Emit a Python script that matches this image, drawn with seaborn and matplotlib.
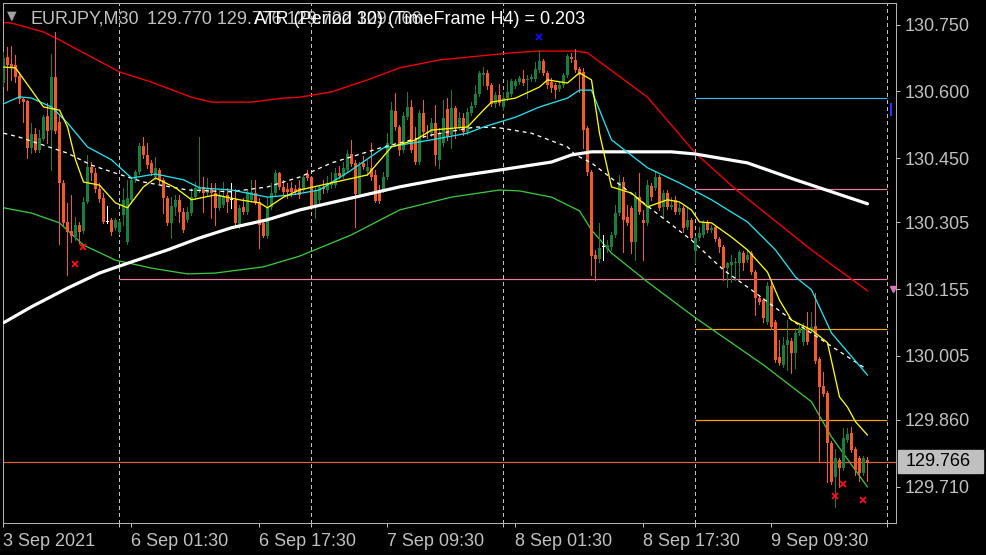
import numpy as np
import matplotlib
matplotlib.use("Agg")
import matplotlib.pyplot as plt
import seaborn as sns
from matplotlib.patches import Rectangle
from matplotlib.transforms import blended_transform_factory

# EURJPY M30 candles (bar 0 = 3 Sep 2021 09:30)
opens = [
    130.619, 130.677, 130.662, 130.660, 130.634, 130.583, 130.579, 130.473, 130.504, 130.468,
    130.493, 130.545, 130.513, 130.632, 130.531, 130.394, 130.306, 130.286, 130.272, 130.300,
    130.286, 130.351, 130.430, 130.416, 130.380, 130.360, 130.306, 130.311, 130.293, 130.284,
    130.322, 130.261, 130.356, 130.401, 130.419, 130.477, 130.457, 130.439, 130.407, 130.423,
    130.401, 130.360, 130.304, 130.340, 130.356, 130.329, 130.311, 130.326, 130.362, 130.378,
    130.385, 130.371, 130.380, 130.371, 130.338, 130.345, 130.367, 130.356, 130.356, 130.300,
    130.340, 130.329, 130.356, 130.371, 130.351, 130.304, 130.275, 130.340, 130.371, 130.416,
    130.385, 130.380, 130.383, 130.380, 130.383, 130.378, 130.414, 130.407, 130.342, 130.356,
    130.385, 130.378, 130.389, 130.389, 130.416, 130.410, 130.423, 130.459, 130.439, 130.369,
    130.439, 130.421, 130.428, 130.412, 130.378, 130.378, 130.407, 130.482, 130.556, 130.520,
    130.468, 130.542, 130.565, 130.491, 130.441, 130.552, 130.509, 130.507, 130.529, 130.446,
    130.484, 130.561, 130.502, 130.563, 130.518, 130.540, 130.509, 130.552, 130.570, 130.594,
    130.637, 130.642, 130.615, 130.572, 130.592, 130.565, 130.585, 130.594, 130.612, 130.621,
    130.628, 130.626, 130.628, 130.628, 130.648, 130.669, 130.642, 130.621, 130.615, 130.606,
    130.615, 130.637, 130.677, 130.671, 130.651, 130.644, 130.518, 130.419, 130.232, 130.223,
    130.250, 130.245, 130.250, 130.277, 130.326, 130.396, 130.318, 130.338, 130.261, 130.362,
    130.311, 130.304, 130.387, 130.383, 130.407, 130.340, 130.371, 130.340, 130.356, 130.329,
    130.338, 130.295, 130.311, 130.241, 130.270, 130.277, 130.306, 130.288, 130.295, 130.268,
    130.250, 130.202, 130.209, 130.214, 130.214, 130.236, 130.220, 130.236, 130.193, 130.135,
    130.130, 130.081, 130.162, 130.081, 130.002, 129.984, 130.029, 130.038, 130.011, 130.056,
    130.036, 130.067, 130.063, 130.072, 129.998, 129.937, 129.921, 129.808, 129.732, 129.770,
    129.752, 129.815, 129.831, 129.795, 129.775, 129.741, 129.770,
]
highs = [
    130.688, 130.700, 130.702, 130.682, 130.644, 130.585, 130.581, 130.529, 130.518, 130.513,
    130.547, 130.574, 130.684, 130.734, 130.547, 130.401, 130.349, 130.367, 130.318, 130.306,
    130.362, 130.457, 130.441, 130.428, 130.394, 130.371, 130.342, 130.315, 130.315, 130.311,
    130.383, 130.401, 130.405, 130.423, 130.484, 130.498, 130.484, 130.446, 130.453, 130.428,
    130.405, 130.365, 130.362, 130.367, 130.367, 130.338, 130.340, 130.383, 130.396, 130.498,
    130.407, 130.405, 130.394, 130.394, 130.378, 130.396, 130.383, 130.394, 130.380, 130.345,
    130.360, 130.378, 130.401, 130.401, 130.360, 130.311, 130.362, 130.394, 130.423, 130.419,
    130.401, 130.394, 130.396, 130.389, 130.401, 130.412, 130.423, 130.410, 130.385, 130.389,
    130.401, 130.410, 130.419, 130.428, 130.432, 130.441, 130.468, 130.491, 130.446, 130.441,
    130.455, 130.446, 130.484, 130.423, 130.389, 130.419, 130.507, 130.576, 130.597, 130.525,
    130.554, 130.599, 130.581, 130.520, 130.558, 130.581, 130.525, 130.540, 130.570, 130.518,
    130.581, 130.585, 130.603, 130.567, 130.554, 130.552, 130.563, 130.576, 130.615, 130.646,
    130.655, 130.648, 130.619, 130.599, 130.617, 130.599, 130.626, 130.628, 130.628, 130.635,
    130.648, 130.637, 130.639, 130.666, 130.693, 130.673, 130.646, 130.630, 130.619, 130.621,
    130.642, 130.684, 130.686, 130.696, 130.655, 130.653, 130.522, 130.423, 130.243, 130.304,
    130.277, 130.265, 130.284, 130.345, 130.412, 130.407, 130.345, 130.342, 130.374, 130.416,
    130.333, 130.401, 130.394, 130.419, 130.412, 130.378, 130.378, 130.362, 130.365, 130.349,
    130.342, 130.340, 130.315, 130.275, 130.295, 130.311, 130.311, 130.300, 130.300, 130.272,
    130.254, 130.216, 130.232, 130.225, 130.243, 130.241, 130.243, 130.241, 130.198, 130.139,
    130.135, 130.171, 130.169, 130.085, 130.040, 130.047, 130.085, 130.045, 130.067, 130.078,
    130.078, 130.103, 130.103, 130.146, 130.002, 129.968, 129.925, 129.813, 129.795, 129.775,
    129.842, 129.842, 129.844, 129.799, 129.779, 129.779, 129.776,
]
lows = [
    130.612, 130.603, 130.626, 130.621, 130.574, 130.531, 130.451, 130.462, 130.464, 130.464,
    130.491, 130.484, 130.423, 130.507, 130.256, 130.300, 130.187, 130.261, 130.265, 130.259,
    130.281, 130.349, 130.401, 130.374, 130.351, 130.304, 130.304, 130.277, 130.288, 130.279,
    130.300, 130.256, 130.349, 130.396, 130.414, 130.451, 130.428, 130.412, 130.403, 130.394,
    130.326, 130.300, 130.270, 130.322, 130.306, 130.284, 130.306, 130.322, 130.358, 130.374,
    130.329, 130.365, 130.315, 130.300, 130.333, 130.340, 130.329, 130.338, 130.300, 130.293,
    130.324, 130.324, 130.351, 130.347, 130.247, 130.272, 130.270, 130.336, 130.367, 130.380,
    130.367, 130.360, 130.365, 130.369, 130.360, 130.374, 130.401, 130.336, 130.315, 130.349,
    130.371, 130.374, 130.383, 130.385, 130.405, 130.405, 130.419, 130.432, 130.295, 130.365,
    130.425, 130.412, 130.401, 130.351, 130.349, 130.374, 130.403, 130.477, 130.513, 130.457,
    130.464, 130.538, 130.464, 130.437, 130.437, 130.498, 130.495, 130.500, 130.435, 130.428,
    130.477, 130.491, 130.473, 130.495, 130.513, 130.502, 130.504, 130.547, 130.565, 130.590,
    130.615, 130.606, 130.567, 130.565, 130.570, 130.558, 130.581, 130.590, 130.608, 130.617,
    130.615, 130.585, 130.624, 130.624, 130.644, 130.637, 130.608, 130.599, 130.585, 130.601,
    130.610, 130.633, 130.666, 130.644, 130.599, 130.473, 130.412, 130.187, 130.175, 130.216,
    130.220, 130.238, 130.243, 130.272, 130.322, 130.238, 130.300, 130.236, 130.220, 130.324,
    130.220, 130.300, 130.356, 130.378, 130.333, 130.315, 130.336, 130.336, 130.324, 130.324,
    130.284, 130.290, 130.265, 130.214, 130.265, 130.272, 130.284, 130.284, 130.263, 130.238,
    130.175, 130.160, 130.171, 130.175, 130.180, 130.198, 130.216, 130.189, 130.097, 130.121,
    130.081, 130.076, 130.065, 129.991, 129.984, 129.980, 129.973, 129.966, 129.977, 130.051,
    130.029, 130.031, 130.058, 129.989, 129.768, 129.914, 129.720, 129.716, 129.664, 129.709,
    129.748, 129.811, 129.788, 129.736, 129.723, 129.736, 129.722,
]
closes = [
    130.675, 130.660, 130.655, 130.632, 130.583, 130.576, 130.473, 130.504, 130.468, 130.495,
    130.542, 130.511, 130.632, 130.511, 130.394, 130.304, 130.284, 130.275, 130.300, 130.284,
    130.351, 130.430, 130.416, 130.380, 130.358, 130.306, 130.306, 130.284, 130.311, 130.306,
    130.356, 130.360, 130.401, 130.419, 130.477, 130.457, 130.435, 130.416, 130.428, 130.401,
    130.360, 130.304, 130.342, 130.356, 130.329, 130.288, 130.329, 130.362, 130.383, 130.385,
    130.371, 130.383, 130.371, 130.338, 130.367, 130.362, 130.351, 130.356, 130.304, 130.338,
    130.329, 130.374, 130.374, 130.351, 130.300, 130.275, 130.340, 130.371, 130.416, 130.385,
    130.374, 130.374, 130.374, 130.374, 130.367, 130.407, 130.405, 130.340, 130.378, 130.385,
    130.380, 130.394, 130.396, 130.416, 130.410, 130.428, 130.459, 130.437, 130.369, 130.432,
    130.430, 130.430, 130.407, 130.353, 130.353, 130.407, 130.484, 130.558, 130.520, 130.468,
    130.545, 130.565, 130.468, 130.441, 130.552, 130.509, 130.507, 130.529, 130.457, 130.504,
    130.540, 130.498, 130.563, 130.518, 130.540, 130.509, 130.554, 130.567, 130.594, 130.642,
    130.642, 130.612, 130.572, 130.592, 130.574, 130.585, 130.599, 130.624, 130.624, 130.630,
    130.619, 130.628, 130.633, 130.651, 130.669, 130.642, 130.615, 130.608, 130.603, 130.615,
    130.637, 130.680, 130.673, 130.648, 130.637, 130.513, 130.419, 130.230, 130.223, 130.247,
    130.250, 130.254, 130.277, 130.326, 130.396, 130.311, 130.304, 130.261, 130.362, 130.329,
    130.304, 130.389, 130.362, 130.407, 130.338, 130.371, 130.340, 130.345, 130.329, 130.338,
    130.293, 130.311, 130.270, 130.270, 130.281, 130.306, 130.288, 130.293, 130.268, 130.250,
    130.202, 130.214, 130.216, 130.216, 130.238, 130.214, 130.232, 130.193, 130.135, 130.126,
    130.090, 130.162, 130.070, 129.995, 129.989, 130.029, 130.040, 130.011, 130.056, 130.067,
    130.067, 130.036, 130.070, 129.993, 129.934, 129.919, 129.808, 129.720, 129.775, 129.752,
    129.820, 129.829, 129.793, 129.748, 129.741, 129.775, 129.766,
]

# indicator lines, sampled (bar index, price)
red_i = [0, 2, 10, 14, 20, 29, 37, 47, 52, 62, 70, 74, 82, 91, 99, 109, 117, 127, 134, 143,
         146, 161, 173, 183, 202, 216]
red_p = [130.755, 130.754, 130.734, 130.716, 130.687, 130.644, 130.621, 130.587, 130.576, 130.576,
         130.585, 130.587, 130.599, 130.626, 130.653, 130.671, 130.678, 130.687, 130.691, 130.691,
         130.687, 130.587, 130.461, 130.380, 130.243, 130.151]
grn_i = [0, 7, 14, 20, 28, 37, 46, 53, 65, 74, 87, 99, 112, 124, 129, 137, 144, 147, 152, 161,
         173, 190, 202, 207, 216]
grn_p = [130.338, 130.326, 130.304, 130.254, 130.220, 130.202, 130.189, 130.191, 130.205, 130.229,
         130.277, 130.333, 130.362, 130.378, 130.376, 130.362, 130.331, 130.288, 130.236, 130.171,
         130.090, 129.984, 129.901, 129.822, 129.709]
wht_i = [0, 7, 16, 24, 32, 41, 49, 57, 66, 74, 87, 99, 112, 124, 137, 142, 147, 157, 167, 173,
         186, 198, 207, 216]
wht_p = [130.079, 130.115, 130.157, 130.191, 130.216, 130.243, 130.270, 130.293, 130.311, 130.333,
         130.360, 130.385, 130.407, 130.423, 130.441, 130.457, 130.464, 130.464, 130.464, 130.459,
         130.439, 130.401, 130.374, 130.347]
dsh_i = [0, 4, 10, 16, 22, 28, 35, 46, 57, 66, 74, 82, 95, 107, 118, 124, 132, 141, 143, 147,
         159, 172, 180, 187, 198, 215]
dsh_p = [130.506, 130.497, 130.479, 130.461, 130.434, 130.416, 130.396, 130.378, 130.374, 130.385,
         130.407, 130.439, 130.475, 130.502, 130.520, 130.518, 130.506, 130.475, 130.457, 130.439,
         130.356, 130.265, 130.198, 130.153, 130.079, 129.979]
cyn_i = [0, 4, 7, 12, 16, 21, 27, 32, 38, 45, 49, 57, 66, 72, 79, 87, 95, 107, 116, 120,
         128, 134, 141, 144, 147, 152, 161, 169, 177, 186, 193, 198, 202, 207, 216]
cyn_p = [130.572, 130.588, 130.585, 130.565, 130.529, 130.475, 130.446, 130.405, 130.414, 130.401,
         130.383, 130.378, 130.362, 130.367, 130.378, 130.423, 130.473, 130.491, 130.506, 130.520,
         130.542, 130.565, 130.585, 130.603, 130.603, 130.491, 130.428, 130.394, 130.356, 130.306,
         130.243, 130.182, 130.153, 130.056, 129.961]
yel_i = [0, 3, 7, 10, 14, 16, 18, 20, 24, 28, 31, 35, 38, 43, 47, 53, 59, 64, 66, 70,
         74, 82, 91, 97, 103, 107, 116, 120, 122, 128, 134, 136, 141, 144, 147, 149, 152, 157, 161, 166,
         169, 172, 174, 177, 182, 186, 191, 194, 197, 202, 206, 209, 211, 213, 216]
yel_p = [130.655, 130.653, 130.603, 130.565, 130.558, 130.520, 130.446, 130.396, 130.389, 130.349,
         130.338, 130.385, 130.405, 130.383, 130.356, 130.367, 130.356, 130.349, 130.338, 130.362,
         130.378, 130.394, 130.412, 130.475, 130.491, 130.513, 130.520, 130.558, 130.576, 130.585,
         130.610, 130.626, 130.619, 130.642, 130.626, 130.506, 130.385, 130.371, 130.340, 130.356,
         130.351, 130.333, 130.306, 130.304, 130.272, 130.243, 130.193, 130.130, 130.085, 130.063,
         130.034, 129.912, 129.889, 129.856, 129.826]

# fractal marks
red_mark_i = [18, 20, 208, 210, 215]
red_mark_p = [130.211, 130.250, 129.689, 129.716, 129.680]
blue_mark_i = [134]
blue_mark_p = [130.723]

# horizontal levels: (price, start bar, end bar, colour)
levels = [
    (130.178, 29, 221, "#e87ca0"),
    (130.586, 173, 221, "#3ab4e8"),
    (130.380, 173, 221, "#e87ca0"),
    (130.065, 173, 221, "#ffa500"),
    (129.859, 173, 221, "#ffa500"),
]

day_bars = [29, 77, 125, 173, 221]
label_bars = [0, 32, 64, 96, 128, 160, 192]
date_labels = ["3 Sep 2021", "6 Sep 01:30", "6 Sep 17:30", "7 Sep 09:30",
               "8 Sep 01:30", "8 Sep 17:30", "9 Sep 09:30"]
price_ticks = [130.750, 130.600, 130.450, 130.305, 130.155, 130.005, 129.860, 129.710]

sns.set_theme(style="dark", rc={"axes.facecolor": "black", "figure.facecolor": "black"})
plt.rcParams["font.family"] = ["Liberation Sans", "DejaVu Sans"]

FG = "#c0c0c0"
BULL = "#17803c"
BEAR = "#f4592a"
PX = 0.72  # one pixel in points
FS = 13

W, H = 987, 555
fig = plt.figure(figsize=(W / 100, H / 100), dpi=100, facecolor="black")
ax = fig.add_axes([3 / W, (H - 523) / H, 893 / W, 520 / H])
ax.set_facecolor("black")

# day separators
for b in day_bars:
    ax.axvline(b, color=FG, lw=PX, linestyle=(0, (3, 3)), antialiased=False, zorder=1)

for price, b0, b1, col in levels:
    ax.hlines(price, b0, b1, color=col, lw=PX * 1.2, zorder=1)

# candles
o = np.array(opens)
c = np.array(closes)
hi = np.array(highs)
lo = np.array(lows)
idx = np.arange(len(c))
doji = np.abs(c - o) < 0.0015
cols = np.where(doji, "white", np.where(c > o, BULL, BEAR))
ax.vlines(idx, lo, hi, colors=cols, lw=PX, antialiased=False, zorder=3)
body_h = np.maximum(np.abs(c - o), 0.0023)
ax.bar(idx, body_h, bottom=np.minimum(o, c), width=0.75, color=cols, lw=0,
       antialiased=False, zorder=3)

# indicators
sns.lineplot(x=red_i, y=red_p, ax=ax, color="#ff0000", lw=PX * 1.3, zorder=2)
sns.lineplot(x=grn_i, y=grn_p, ax=ax, color="#3cc83c", lw=PX * 1.3, zorder=2)
sns.lineplot(x=wht_i, y=wht_p, ax=ax, color="white", lw=2.3, zorder=4)
sns.lineplot(x=dsh_i, y=dsh_p, ax=ax, color="white", lw=PX * 1.3, zorder=4)
ax.lines[-1].set_linestyle((0, (3, 3)))
sns.lineplot(x=cyn_i, y=cyn_p, ax=ax, color="#20e4f0", lw=PX * 1.3, zorder=4)
sns.lineplot(x=yel_i, y=yel_p, ax=ax, color="#ffff00", lw=PX * 1.3, zorder=4)

ax.plot(red_mark_i, red_mark_p, ls="none", marker="x", ms=4.5, mew=1.3, color="#ff1010", zorder=5)
ax.plot(blue_mark_i, blue_mark_p, ls="none", marker="x", ms=4.5, mew=1.3, color="#1010ff", zorder=5)
ax.vlines(222, 130.545, 130.575, color="#3030ff", lw=1.5, zorder=5)
ax.plot([222.3], [130.155], ls="none", marker="v", ms=4, color="#e070c0", zorder=5)

# bid line
last = closes[-1]
ax.axhline(last, color="#e8603c", lw=PX * 1.2, zorder=2)

ax.set_xlim(-0.125, 223.125)
ax.set_ylim(129.628, 130.7992)

for s in ax.spines.values():
    s.set_color("#b0b0b0")
    s.set_linewidth(PX)
    s.set_visible(True)

ax.yaxis.tick_right()
ax.set_yticks(price_ticks)
ax.set_yticklabels([f"{v:.3f}" for v in price_ticks])
ax.tick_params(axis="y", which="both", left=False, right=True, labelleft=False, labelright=True,
               length=2.9, width=PX, color=FG, labelcolor=FG, labelsize=FS, pad=3.6)

ax.set_xticks(label_bars)
ax.set_xticklabels(date_labels, ha="left")
ax.set_xticks(day_bars, minor=True)
ax.tick_params(axis="x", which="both", bottom=True, length=2.9, width=PX, color=FG,
               labelcolor=FG, labelsize=FS, pad=4)
ax.set_xlabel("")
ax.set_ylabel("")
ax.grid(False)

# current price box
trans = blended_transform_factory(ax.transAxes, ax.transData)
box_h = 23 * (130.7992 - 129.628) / 520
ax.add_patch(Rectangle((895 / 893, last - box_h / 2), 85 / 893, box_h, transform=trans,
                       clip_on=False, color="#c0c0c0", zorder=6))
ax.text(903 / 893, last, f"{last:.3f}", transform=trans, color="black", fontsize=FS,
        va="center", ha="left", clip_on=False, zorder=7)

# header texts
fig.text(12 / W, 1 - 16 / H, "\u25bc", color="#a0a0a0", fontsize=9, ha="center", va="center",
         family="DejaVu Sans")
fig.text(31 / W, 1 - 24 / H, "EURJPY,M30", color=FG, fontsize=FS, va="baseline")
fig.text(147 / W, 1 - 24 / H, "129.770 129.776 129.722 129.766", color=FG, fontsize=FS,
         va="baseline")
fig.text(254 / W, 1 - 24 / H, "ATR (Period 30) (TimeFrame H4) = 0.203", color="white",
         fontsize=FS, va="baseline")

fig.savefig("out.png", dpi=100, facecolor="black")
